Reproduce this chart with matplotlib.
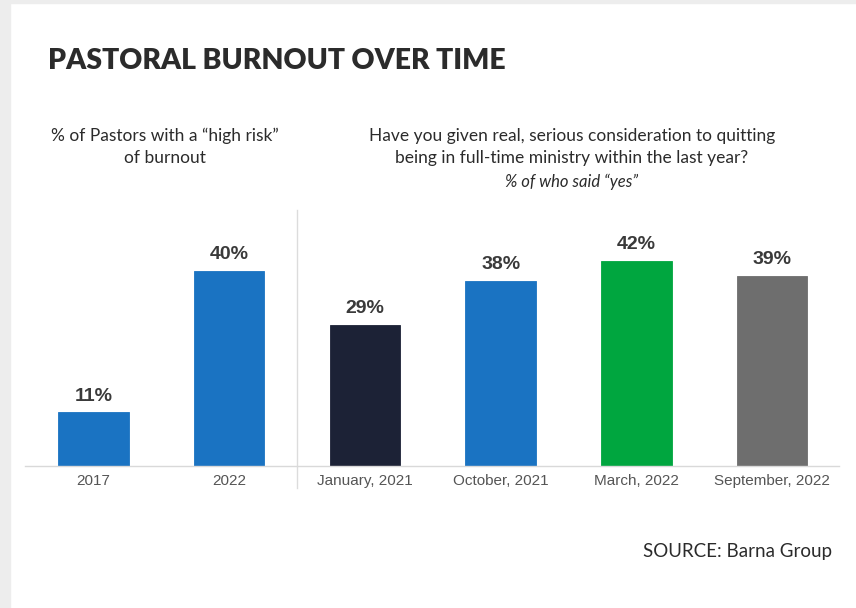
import matplotlib.pyplot as plt
from matplotlib.patches import Rectangle

categories = ["2017", "2022", "January, 2021", "October, 2021", "March, 2022", "September, 2022"]
values = [11, 40, 29, 38, 42, 39]
colors = ["#1a73c2", "#1a73c2", "#1c2236", "#1a73c2", "#00a63f", "#6e6e6e"]

title = "PASTORAL BURNOUT OVER TIME"
left_sub = "% of Pastors with a \u201chigh risk\u201d\nof burnout"
right_sub = "Have you given real, serious consideration to quitting\nbeing in full-time ministry within the last year?"
right_note = "% of who said \u201cyes\u201d"
source = "SOURCE: Barna Group"

W, H = 856, 608
fig = plt.figure(figsize=(W / 100, H / 100), dpi=100)
fig.patch.set_facecolor("white")

# light gray frame on top/left edges
fig.patches.append(Rectangle((0, 1 - 3 / H), 1, 3 / H, transform=fig.transFigure, color="#ededed", zorder=0))
fig.patches.append(Rectangle((0, 0), 10 / W, 1, transform=fig.transFigure, color="#ededed", zorder=0))

ax = fig.add_axes([25 / W, 1 - 466 / H, (839 - 25) / W, (466 - 210) / H])
x = list(range(len(values)))
ax.bar(x, values, width=0.52, color=colors, edgecolor=colors, linewidth=0.6)
ax.set_xlim(-0.505, 5.494)
ax.set_ylim(0, 52.5)

for xi, v in zip(x, values):
    ax.text(xi, v + 1.6, f"{v}%", ha="center", va="bottom", fontsize=14,
            fontweight="bold", color="#3a3a3a", family="Liberation Sans")

ax.set_xticks(x)
ax.set_xticklabels(categories, fontsize=11, color="#555555", family="Liberation Sans")
ax.tick_params(axis="x", length=0, pad=6)
ax.set_yticks([])
for s in ["top", "left", "right"]:
    ax.spines[s].set_visible(False)
ax.spines["bottom"].set_color("#d9d9d9")
ax.spines["bottom"].set_linewidth(1)

# divider between the two panels
ax.plot([1.5, 1.5], [-4.5, 52.5], color="#dcdcdc", linewidth=1, clip_on=False)

fig.text(48 / W, 1 - 61 / H, title, ha="left", va="center", fontsize=20.4,
         fontweight="heavy", color="#2b2b2b", family="Lato")
fig.text(165 / W, 1 - 147 / H, left_sub, ha="center", va="center", fontsize=12.5,
         color="#2b2b2b", family="Lato", linespacing=1.45)
fig.text(572 / W, 1 - 147 / H, right_sub, ha="center", va="center", fontsize=12.5,
         color="#2b2b2b", family="Lato", linespacing=1.45)
fig.text(572 / W, 1 - 182 / H, right_note, ha="center", va="center", fontsize=12,
         style="italic", color="#2b2b2b", family="Lato")
fig.text(832 / W, 1 - 551 / H, source, ha="right", va="center", fontsize=13.5,
         color="#2b2b2b", family="Lato")

fig.savefig("out.png", dpi=100)
